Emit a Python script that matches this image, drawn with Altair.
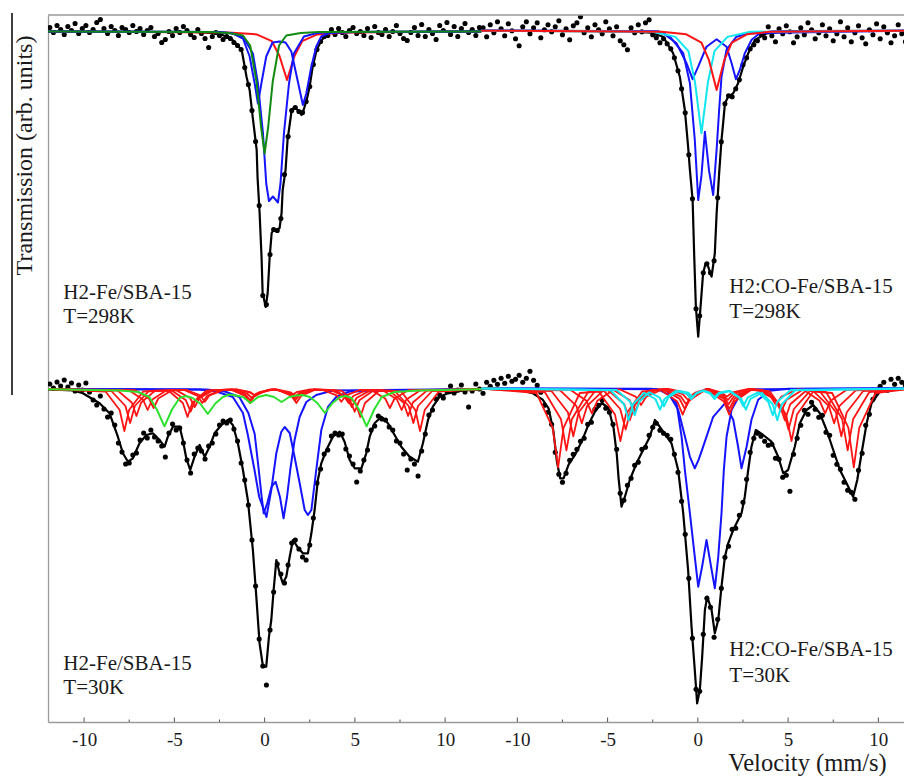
import altair as alt
import pandas as pd

SERIF = "Liberation Serif, Times New Roman, Times, DejaVu Serif, serif"
INK = "#1a1a1a"
GRAY = "#9a9a9a"
BLACK = "#000000"
BLUE = "#1414ff"
RED = "#ff1414"
DKGREEN = "#108a10"
GREEN = "#2ee02e"
CYAN = "#14e6ee"

# velocity channels (mm/s)
CHANNEL_V = [
    -11.9, -11.7, -11.5, -11.3, -11.1, -10.9, -10.7, -10.5, -10.3, -10.1,
    -9.9, -9.7, -9.5, -9.3, -9.1, -8.9, -8.7, -8.5, -8.3, -8.1,
    -7.9, -7.7, -7.5, -7.3, -7.1, -6.9, -6.7, -6.5, -6.3, -6.1,
    -5.9, -5.7, -5.5, -5.3, -5.1, -4.9, -4.7, -4.5, -4.3, -4.1,
    -3.9, -3.7, -3.5, -3.3, -3.1, -2.9, -2.7, -2.5, -2.3, -2.1,
    -1.9, -1.7, -1.5, -1.3, -1.1, -0.9, -0.7, -0.5, -0.3, -0.1,
    0.1, 0.3, 0.5, 0.7, 0.9, 1.1, 1.3, 1.5, 1.7, 1.9,
    2.1, 2.3, 2.5, 2.7, 2.9, 3.1, 3.3, 3.5, 3.7, 3.9,
    4.1, 4.3, 4.5, 4.7, 4.9, 5.1, 5.3, 5.5, 5.7, 5.9,
    6.1, 6.3, 6.5, 6.7, 6.9, 7.1, 7.3, 7.5, 7.7, 7.9,
    8.1, 8.3, 8.5, 8.7, 8.9, 9.1, 9.3, 9.5, 9.7, 9.9,
    10.1, 10.3, 10.5, 10.7, 10.9, 11.1, 11.3, 11.5, 11.7, 11.9,
]

# measured relative transmission (%)
TL_DATA = [
    100.4, 99.9, 100.6, 100.2, 99.7, 100.5, 100.1, 100.8, 99.8, 100.3,
    100.6, 99.9, 100.2, 100.9, 101.2, 100.3, 99.8, 100.5, 100.1, 99.6,
    100.4, 100.2, 99.9, 100.6, 100.0, 100.3, 99.7, 100.1, 100.4, 99.5,
    99.8, 98.9, 99.2, 100.0, 99.6, 100.3, 99.9, 100.5, 100.1, 99.7,
    99.4, 100.2, 99.8, 99.3, 98.4, 99.5, 99.9, 99.6, 99.2, 99.5,
    99.3, 98.9, 98.6, 98.2, 96.4, 94.7, 92.1, 89.0, 82.6, 73.6,
    72.7, 77.7, 80.2, 80.1, 81.3, 85.7, 89.5, 92.1, 92.4, 92.0,
    91.9, 93.0, 94.5, 96.7, 98.2, 99.0, 99.5, 99.6, 100.2, 99.7,
    100.3, 99.9, 99.5, 100.1, 100.4, 99.8, 100.0, 99.6, 100.3, 99.4,
    100.5, 99.9, 99.7, 100.2, 99.5, 100.0, 100.6, 99.8, 99.3, 99.1,
    99.9, 100.4, 99.6, 100.7, 99.5, 100.2, 99.8, 99.2, 100.6, 100.1,
    100.9, 99.7, 100.5, 99.5, 100.3, 100.8, 99.9, 100.2, 99.6, 100.4,
]
TR_DATA = [
    100.3, 99.4, 100.6, 99.8, 100.9, 100.2, 99.5, 100.7, 100.0, 99.2,
    98.5, 100.4, 100.9, 99.7, 100.3, 100.8, 99.3, 100.1, 100.6, 99.9,
    100.4, 101.0, 99.6, 100.2, 99.1, 100.5, 100.8, 101.4, 99.8, 100.3,
    99.4, 100.6, 100.1, 99.7, 100.9, 100.2, 99.5, 100.4, 99.0, 98.6,
    98.1, 100.3, 99.8, 100.6, 99.9, 100.8, 101.1, 99.6, 99.3, 98.8,
    99.2, 98.7, 98.2, 97.3, 96.0, 94.2, 91.8, 87.6, 83.2, 72.2,
    71.5, 75.8, 76.7, 75.8, 77.0, 83.3, 88.9, 92.7, 93.5, 93.4,
    94.2, 95.1, 96.6, 97.3, 98.2, 98.6, 99.0, 99.7, 99.3, 100.4,
    99.5, 98.9, 100.2, 99.7, 100.5, 99.9, 98.8, 99.4, 100.3, 99.6,
    100.8, 100.1, 99.2, 99.8, 100.6, 99.5, 100.2, 99.0, 99.7, 100.9,
    99.4, 100.3, 98.9, 99.8, 100.5, 99.3, 98.7, 100.1, 99.6, 100.7,
    99.2, 100.4, 99.8, 98.8, 99.5, 100.6, 99.7, 98.9, 100.2, 99.5,
]
BL_DATA = [
    100.5, 100.1, 100.7, 100.3, 100.9, 100.2, 100.6, 99.8, 100.4, 99.9,
    100.6, 99.7, 98.9, 98.4, 99.3, 98.0, 97.2, 97.6, 96.4, 94.6,
    93.7, 92.5, 92.6, 93.4, 93.6, 94.9, 95.6, 95.1, 95.9, 95.2,
    94.8, 94.3, 93.2, 95.6, 96.5, 95.9, 96.1, 94.6, 92.9, 91.6,
    93.5, 94.1, 93.8, 93.0, 94.3, 94.6, 95.5, 96.4, 96.8, 96.6,
    96.9, 96.0, 94.8, 92.6, 90.9, 88.4, 84.9, 80.3, 75.0, 72.3,
    70.4, 75.9, 79.7, 82.5, 81.5, 80.6, 82.4, 84.6, 84.9, 84.0,
    83.2, 82.9, 84.4, 87.1, 90.6, 92.0, 93.5, 93.9, 95.3, 95.6,
    95.4, 95.5, 94.0, 93.3, 92.5, 90.7, 91.8, 92.9, 93.9, 95.9,
    96.3, 97.3, 97.0, 96.9, 96.2, 95.9, 94.8, 94.6, 93.5, 91.9,
    93.0, 92.5, 91.3, 93.8, 95.5, 97.4, 97.9, 99.0, 99.4, 99.1,
    99.8, 100.3, 99.6, 99.9, 100.4, 99.7, 98.2, 99.8, 100.5, 100.0,
]
BR_DATA = [
    99.5, 100.6, 100.2, 100.8, 100.4, 101.0, 100.5, 101.2, 100.7, 100.9,
    101.3, 100.6, 101.0, 101.7, 100.8, 100.3, 99.6, 98.3, 97.6, 96.4,
    93.6, 91.4, 90.6, 91.5, 92.8, 93.4, 93.9, 94.7, 95.0, 96.4,
    96.6, 97.9, 98.3, 98.8, 98.0, 97.6, 96.4, 93.9, 89.5, 88.8,
    90.3, 91.0, 92.3, 92.6, 93.9, 94.1, 95.3, 96.1, 96.5, 95.8,
    95.5, 95.3, 94.9, 93.4, 91.6, 88.7, 85.4, 81.0, 75.0, 69.9,
    69.7, 75.4, 79.0, 78.1, 75.1, 76.9, 80.0, 83.1, 84.2, 85.9,
    86.0, 87.3, 88.6, 90.9, 93.6, 95.0, 95.5, 95.2, 94.7, 94.3,
    94.4, 93.0, 92.9, 91.1, 91.3, 89.7, 93.4, 95.0, 96.3, 97.8,
    97.4, 98.6, 97.9, 97.1, 97.3, 95.6, 95.3, 93.3, 92.4, 91.9,
    90.6, 89.8, 89.6, 88.9, 91.8, 93.5, 96.3, 97.4, 98.9, 99.5,
    100.2, 100.6, 99.8, 100.9, 100.4, 101.0, 100.6, 100.3, 100.8, 100.1,
]

# ---- H2-Fe/SBA-15, 298 K ----
TL_FIT = [(-12, 100.0), (-4, 99.95), (-2.5, 99.8), (-1.77, 99.15), (-1.27, 98.15), (-1.0, 95.45),
          (-0.83, 94.15), (-0.66, 91.45), (-0.44, 88.15), (-0.39, 85.35), (-0.28, 81.95), (-0.17, 77.45),
          (-0.11, 73.85), (0.06, 72.45), (0.17, 73.85), (0.28, 77.45), (0.39, 79.85), (0.5, 80.15),
          (0.66, 80.15), (0.83, 80.35), (0.94, 81.85), (1.0, 84.15), (1.16, 86.15), (1.27, 89.15),
          (1.5, 92.15), (1.66, 92.45), (1.83, 92.15), (2.05, 91.65), (2.16, 92.15), (2.33, 93.15),
          (2.49, 94.45), (2.66, 96.45), (2.88, 98.15), (3.16, 99.15), (3.6, 99.85), (5, 99.95), (12, 100.0)]
TL_RED = [(-12, 100.0), (-2.0, 99.9), (-0.44, 99.71), (0.4, 99.03), (0.82, 97.57), (1.24, 95.15),
          (1.66, 97.57), (2.08, 99.03), (2.92, 99.71), (4.5, 99.9), (12, 100.0)]
TL_BLUE_A = [(-12, 100.0), (-2.5, 99.95), (-1.76, 99.8), (-1.2, 99.3), (-0.83, 97.5), (-0.55, 94.8),
             (-0.37, 92.8), (-0.18, 94.8), (0.09, 97.5), (0.44, 98.9), (0.83, 99.0), (1.16, 98.9),
             (1.48, 98.0), (1.84, 95.0), (2.12, 92.65), (2.31, 93.8), (2.59, 96.5), (2.86, 98.5),
             (3.14, 99.5), (3.6, 99.85), (5, 99.95), (12, 100.0)]
TL_BLUE_B = [(-12, 100.0), (-2.8, 99.95), (-1.9, 99.85), (-1.2, 99.5), (-0.65, 97.8), (-0.37, 94.8),
             (-0.09, 89.8), (0.09, 84.8), (0.24, 83.05), (0.46, 83.5), (0.74, 82.9), (0.88, 84.8),
             (1.07, 89.8), (1.35, 94.8), (1.62, 97.8), (2.18, 99.5), (2.9, 99.85), (4, 99.95), (12, 100.0)]
TL_GREEN = [(-12, 100.0), (-3.0, 99.95), (-2.0, 99.85), (-1.2, 99.6), (-0.8, 98.6), (-0.45, 95.0),
            (-0.2, 90.5), (0.0, 87.8), (0.2, 90.5), (0.45, 95.0), (0.8, 98.6), (1.2, 99.6),
            (2.0, 99.85), (3.0, 99.95), (12, 100.0)]

# ---- H2:CO-Fe/SBA-15, 298 K ----
TR_FIT = [(-12, 100.0), (-4, 99.95), (-2.6, 99.8), (-1.92, 99.4), (-1.37, 97.74), (-1.0, 95.4),
          (-0.72, 92.07), (-0.54, 88.4), (-0.44, 86.07), (-0.29, 83.07), (-0.2, 77.4), (-0.11, 72.4),
          (0.02, 69.4), (0.15, 72.4), (0.29, 75.74), (0.43, 76.74), (0.57, 76.4), (0.76, 75.4),
          (0.94, 77.74), (1.04, 81.74), (1.18, 85.74), (1.31, 89.07), (1.4, 90.74), (1.5, 92.74),
          (1.68, 93.4), (1.96, 93.74), (2.23, 94.74), (2.51, 96.4), (2.79, 97.74), (3.16, 99.07),
          (3.81, 99.74), (5, 99.95), (12, 100.0)]
TR_BLUE_A = [(-12, 100.0), (-2.6, 99.95), (-1.92, 99.75), (-1.18, 98.75), (-0.63, 96.75), (-0.29, 95.15),
             (0.02, 96.4), (0.48, 98.4), (1.04, 99.15), (1.59, 98.4), (1.87, 96.75), (2.11, 95.15),
             (2.33, 96.1), (2.6, 97.75), (2.98, 99.1), (3.43, 99.75), (4.2, 99.95), (12, 100.0)]
TR_BLUE_B = [(-12, 100.0), (-2.2, 99.95), (-1.55, 99.4), (-0.81, 97.75), (-0.44, 94.75), (-0.17, 89.1),
             (0.02, 83.07), (0.2, 85.5), (0.39, 89.9), (0.62, 86.0), (0.85, 83.57), (1.04, 88.1),
             (1.18, 92.1), (1.31, 95.4), (1.59, 98.1), (2.14, 99.4), (2.88, 99.75), (12, 100.0)]
TR_CYAN = [(-12, 100.0), (-2.5, 99.9), (-1.24, 99.38), (-0.52, 97.95), (-0.16, 94.87), (0.2, 89.74),
           (0.56, 94.87), (0.92, 97.95), (1.64, 99.38), (2.9, 99.9), (12, 100.0)]
TR_RED = [(-12, 100.0), (-2.0, 99.9), (-0.64, 99.64), (0.2, 98.81), (0.62, 97.03), (1.04, 94.07),
          (1.46, 97.03), (1.88, 98.81), (2.72, 99.64), (4.0, 99.9), (12, 100.0)]

# ---- H2-Fe/SBA-15, 30 K ----
BL_FIT = [(-12, 99.97), (-10.6, 99.85), (-10.07, 99.57), (-9.14, 98.57), (-8.59, 97.57), (-8.13, 95.23),
          (-7.85, 93.57), (-7.57, 92.73), (-7.3, 93.07), (-6.93, 94.57), (-6.55, 95.4), (-6.19, 95.57),
          (-5.82, 94.9), (-5.54, 94.23), (-5.36, 95.23), (-5.08, 96.23), (-4.71, 96.23), (-4.53, 94.9),
          (-4.34, 93.07), (-4.12, 91.9), (-3.88, 93.23), (-3.6, 94.4), (-3.32, 93.23), (-3.05, 94.23),
          (-2.77, 95.57), (-2.4, 96.4), (-2.03, 96.9), (-1.76, 96.4), (-1.48, 94.57), (-1.2, 91.9),
          (-0.93, 88.9), (-0.65, 83.9), (-0.46, 79.23), (-0.28, 74.57), (-0.09, 72.23), (0.09, 72.23),
          (0.24, 75.23), (0.37, 76.9), (0.5, 79.9), (0.65, 82.9), (0.83, 81.57), (1.01, 80.57),
          (1.2, 81.23), (1.39, 83.23), (1.57, 84.9), (1.81, 84.23), (2.12, 83.57), (2.4, 83.57),
          (2.59, 85.57), (2.77, 87.9), (2.95, 90.9), (3.14, 92.57), (3.42, 93.9), (3.78, 95.23),
          (4.16, 95.73), (4.43, 94.73), (4.71, 92.9), (4.99, 92.07), (5.36, 92.07), (5.63, 93.57),
          (5.82, 95.23), (6.09, 96.57), (6.47, 97.23), (6.83, 96.57), (7.2, 95.4), (7.57, 94.23),
          (8.03, 93.23), (8.49, 92.73), (8.77, 94.57), (9.05, 96.9), (9.32, 98.23), (9.7, 99.23),
          (10.16, 99.57), (11, 99.85), (12, 99.97)]
BL_BLUE_A = [(-12, 100.0), (-3.6, 99.95), (-2.68, 99.75), (-1.76, 99.2), (-1.2, 97.6), (-0.94, 95.5),
             (-0.57, 92.0), (-0.3, 89.2), (0.1, 87.2), (0.37, 89.9), (0.65, 93.6), (0.92, 95.7),
             (1.11, 96.2), (1.39, 95.6), (1.66, 93.2), (1.94, 90.6), (2.22, 87.9), (2.4, 87.4),
             (2.59, 87.9), (2.86, 91.9), (3.14, 95.9), (3.51, 98.2), (3.97, 99.2), (4.71, 99.75), (12, 100.0)]
BL_BLUE_B = [(-12, 100.0), (-3.2, 99.95), (-2.2, 99.75), (-1.4, 99.2), (-0.9, 97.6), (-0.55, 95.5),
             (-0.33, 92.0), (-0.17, 89.3), (-0.05, 87.57), (0.15, 88.6), (0.38, 90.2), (0.61, 90.73),
             (0.85, 89.2), (1.05, 87.07), (1.24, 89.2), (1.42, 91.9), (1.66, 94.9), (1.94, 97.2),
             (2.31, 98.7), (2.86, 99.4), (3.78, 99.85), (12, 100.0)]
BL_RED_1 = [(-12, 99.98), (-8.81, 99.75), (-8.03, 97.9), (-7.77, 95.8), (-7.51, 97.9), (-6.73, 99.75),
            (-5.31, 99.83), (-4.53, 98.6), (-4.27, 97.2), (-4.01, 98.6), (-3.23, 99.83), (-1.86, 99.92),
            (-1.08, 99.3), (-0.82, 98.6), (-0.56, 99.3), (0.22, 99.92), (0.72, 99.92), (1.5, 99.3),
            (1.76, 98.6), (2.02, 99.3), (2.8, 99.92), (4.26, 99.83), (5.04, 98.6), (5.3, 97.2),
            (5.56, 98.6), (6.34, 99.83), (7.57, 99.75), (8.35, 97.9), (8.61, 95.8), (8.87, 97.9),
            (9.65, 99.75), (12, 99.98)]
BL_RED_2 = [(-12, 99.98), (-8.49, 99.8), (-7.71, 98.3), (-7.45, 96.6), (-7.19, 98.3), (-6.41, 99.8),
            (-5.14, 99.86), (-4.36, 98.87), (-4.1, 97.73), (-3.84, 98.87), (-3.06, 99.86), (-1.84, 99.93),
            (-1.06, 99.43), (-0.8, 98.87), (-0.54, 99.43), (0.24, 99.93), (0.65, 99.93), (1.43, 99.43),
            (1.69, 98.87), (1.95, 99.43), (2.73, 99.93), (3.95, 99.86), (4.73, 98.87), (4.99, 97.73),
            (5.25, 98.87), (6.03, 99.86), (7.2, 99.8), (7.98, 98.3), (8.24, 96.6), (8.5, 98.3),
            (9.28, 99.8), (12, 99.98)]
BL_RED_3 = [(-12, 99.98), (-8.14, 99.84), (-7.36, 98.65), (-7.1, 97.3), (-6.84, 98.65), (-6.06, 99.84),
            (-4.91, 99.89), (-4.13, 99.1), (-3.87, 98.2), (-3.61, 99.1), (-2.83, 99.89), (-1.75, 99.95),
            (-0.97, 99.55), (-0.71, 99.1), (-0.45, 99.55), (0.33, 99.95), (0.63, 99.95), (1.41, 99.55),
            (1.67, 99.1), (1.93, 99.55), (2.71, 99.95), (3.79, 99.89), (4.57, 99.1), (4.83, 98.2),
            (5.09, 99.1), (5.87, 99.89), (6.91, 99.84), (7.69, 98.65), (7.95, 97.3), (8.21, 98.65),
            (8.99, 99.84), (12, 99.98)]
BL_RED_4 = [(-12, 99.98), (-7.52, 99.87), (-6.74, 98.95), (-6.48, 97.9), (-6.22, 98.95), (-5.44, 99.87),
            (-4.49, 99.92), (-3.71, 99.3), (-3.45, 98.6), (-3.19, 99.3), (-2.41, 99.92), (-1.55, 99.96),
            (-0.77, 99.65), (-0.51, 99.3), (-0.25, 99.65), (0.53, 99.96), (0.67, 99.96), (1.45, 99.65),
            (1.71, 99.3), (1.97, 99.65), (2.75, 99.96), (3.61, 99.92), (4.39, 99.3), (4.65, 98.6),
            (4.91, 99.3), (5.69, 99.92), (6.55, 99.87), (7.33, 98.95), (7.59, 97.9), (7.85, 98.95),
            (8.63, 99.87), (12, 99.98)]
BL_RED_5 = [(-12, 99.98), (-7.19, 99.89), (-6.41, 99.05), (-6.15, 98.1), (-5.89, 99.05), (-5.11, 99.89),
            (-4.35, 99.92), (-3.57, 99.37), (-3.31, 98.73), (-3.05, 99.37), (-2.27, 99.92), (-1.6, 99.96),
            (-0.82, 99.68), (-0.56, 99.37), (-0.3, 99.68), (0.45, 99.96), (0.5, 99.96), (1.24, 99.68),
            (1.5, 99.37), (1.76, 99.68), (2.54, 99.96), (3.21, 99.92), (3.99, 99.37), (4.25, 98.73),
            (4.51, 99.37), (5.29, 99.92), (5.9, 99.89), (6.68, 99.05), (6.94, 98.1), (7.2, 99.05),
            (7.98, 99.89), (12, 99.98)]
BL_GREEN = [(-12, 99.97), (-8.0, 99.85), (-7.0, 99.7), (-6.39, 99.2), (-5.97, 97.95), (-5.55, 96.27),
            (-5.13, 97.95), (-4.71, 99.1), (-4.35, 99.3), (-3.99, 99.1), (-3.57, 98.55), (-3.15, 97.5),
            (-2.73, 98.55), (-2.31, 99.2), (-1.95, 99.45), (-1.6, 99.35), (-1.2, 99.2), (-0.78, 98.6),
            (-0.36, 99.2), (0.08, 99.4), (0.52, 99.2), (0.94, 98.7), (1.36, 99.2), (1.76, 99.35),
            (2.1, 99.4), (2.5, 99.2), (2.92, 98.6), (3.34, 97.6), (3.76, 98.6), (4.18, 99.2),
            (4.5, 99.3), (4.81, 99.1), (5.23, 97.95), (5.65, 96.27), (6.07, 97.95), (6.49, 99.2),
            (7.2, 99.7), (8.5, 99.85), (12, 99.97)]

# ---- H2:CO-Fe/SBA-15, 30 K ----
BR_FIT = [(-12, 99.97), (-10, 99.85), (-9.14, 99.5), (-8.6, 98.86), (-8.27, 98.0), (-8.0, 95.7),
          (-7.81, 92.7), (-7.63, 91.0), (-7.44, 91.0), (-7.16, 92.36), (-6.8, 93.36), (-6.43, 94.7),
          (-6.06, 96.36), (-5.69, 97.7), (-5.32, 98.53), (-4.95, 98.03), (-4.67, 96.03), (-4.49, 93.36),
          (-4.39, 91.0), (-4.23, 88.16), (-4.04, 89.16), (-3.77, 90.83), (-3.4, 92.5), (-3.03, 93.83),
          (-2.66, 95.16), (-2.38, 96.83), (-1.92, 95.66), (-1.46, 94.5), (-1.09, 91.83), (-0.81, 87.5),
          (-0.54, 81.83), (-0.35, 76.16), (-0.17, 71.83), (-0.04, 68.5), (0.11, 69.83), (0.24, 73.16),
          (0.39, 77.83), (0.52, 79.16), (0.76, 77.83), (0.94, 75.5), (1.13, 76.83), (1.31, 80.16),
          (1.5, 83.16), (1.68, 84.5), (1.96, 85.83), (2.23, 86.83), (2.42, 87.5), (2.6, 89.16),
          (2.79, 91.83), (2.97, 94.16), (3.21, 95.83), (3.62, 95.33), (4.08, 94.66), (4.45, 93.16),
          (4.73, 91.5), (5.0, 91.83), (5.37, 94.16), (5.65, 96.5), (6.02, 97.83), (6.39, 98.33),
          (6.76, 97.5), (7.13, 95.83), (7.5, 93.83), (7.87, 91.83), (8.24, 90.5), (8.6, 89.16),
          (8.83, 90.83), (9.07, 93.5), (9.35, 96.5), (9.62, 98.5), (10.08, 99.66), (10.8, 99.93), (12, 99.98)]
BR_BLUE_A = [(-12, 100.0), (-2.6, 99.95), (-1.73, 99.8), (-1.09, 97.85), (-0.72, 95.2), (-0.44, 93.15),
             (-0.17, 92.0), (0.05, 92.9), (0.29, 94.15), (0.85, 97.15), (1.5, 98.5), (1.96, 96.85),
             (2.23, 94.15), (2.42, 92.0), (2.7, 94.15), (2.97, 96.85), (3.34, 98.85), (3.99, 99.75),
             (5.0, 99.95), (12, 100.0)]
BR_BLUE_B = [(-12, 100.0), (-2.2, 99.9), (-1.55, 99.3), (-1.18, 98.5), (-0.9, 95.15), (-0.72, 91.85),
             (-0.44, 87.5), (-0.17, 83.15), (0.02, 80.16), (0.25, 82.3), (0.48, 84.83), (0.72, 82.3),
             (0.94, 80.0), (1.13, 83.15), (1.31, 87.5), (1.44, 91.85), (1.59, 95.15), (1.87, 97.85),
             (2.33, 99.35), (3.0, 99.9), (12, 100.0)]
BR_RED_1 = [(-12, 99.98), (-8.94, 99.53), (-8.04, 96.05), (-7.74, 92.1), (-7.44, 96.05), (-6.54, 99.53),
            (-5.49, 99.68), (-4.59, 97.37), (-4.29, 94.73), (-3.99, 97.37), (-3.09, 99.68), (-2.04, 99.84),
            (-1.14, 98.68), (-0.84, 97.37), (-0.54, 98.68), (0.36, 99.84), (0.54, 99.84), (1.44, 98.68),
            (1.74, 97.37), (2.04, 98.68), (2.94, 99.84), (3.99, 99.68), (4.89, 97.37), (5.19, 94.73),
            (5.49, 97.37), (6.39, 99.68), (7.44, 99.53), (8.34, 96.05), (8.64, 92.1), (8.94, 96.05),
            (9.84, 99.53), (12, 99.98)]
BR_RED_2 = [(-12, 99.98), (-8.48, 99.63), (-7.58, 96.9), (-7.28, 93.8), (-6.98, 96.9), (-6.08, 99.63),
            (-5.2, 99.75), (-4.3, 97.93), (-4.0, 95.87), (-3.7, 97.93), (-2.8, 99.75), (-1.92, 99.88),
            (-1.02, 98.97), (-0.72, 97.93), (-0.42, 98.97), (0.48, 99.88), (0.54, 99.88), (1.44, 98.97),
            (1.74, 97.93), (2.04, 98.97), (2.94, 99.88), (3.82, 99.75), (4.72, 97.93), (5.02, 95.87),
            (5.32, 97.93), (6.22, 99.75), (7.1, 99.63), (8.0, 96.9), (8.3, 93.8), (8.6, 96.9),
            (9.5, 99.63), (12, 99.98)]
BR_RED_3 = [(-12, 99.98), (-8.1, 99.71), (-7.2, 97.6), (-6.9, 95.2), (-6.6, 97.6), (-5.7, 99.71),
            (-4.97, 99.81), (-4.07, 98.4), (-3.77, 96.8), (-3.47, 98.4), (-2.57, 99.81), (-1.85, 99.9),
            (-0.95, 99.2), (-0.65, 98.4), (-0.35, 99.2), (0.45, 99.9), (0.55, 99.9), (1.4, 99.2),
            (1.7, 98.4), (2.0, 99.2), (2.9, 99.9), (3.62, 99.81), (4.52, 98.4), (4.82, 96.8),
            (5.12, 98.4), (6.02, 99.81), (6.75, 99.71), (7.65, 97.6), (7.95, 95.2), (8.25, 97.6),
            (9.15, 99.71), (12, 99.98)]
BR_RED_4 = [(-12, 99.98), (-7.63, 99.79), (-6.73, 98.25), (-6.43, 96.5), (-6.13, 98.25), (-5.23, 99.79),
            (-4.69, 99.86), (-3.79, 98.83), (-3.49, 97.67), (-3.19, 98.83), (-2.29, 99.86), (-1.74, 99.93),
            (-0.84, 99.42), (-0.54, 98.83), (-0.24, 99.42), (0.5, 99.93), (0.6, 99.93), (1.36, 99.42),
            (1.66, 98.83), (1.96, 99.42), (2.86, 99.93), (3.41, 99.86), (4.31, 98.83), (4.61, 97.67),
            (4.91, 98.83), (5.81, 99.86), (6.35, 99.79), (7.25, 98.25), (7.55, 96.5), (7.85, 98.25),
            (8.75, 99.79), (12, 99.98)]
BR_RED_5 = [(-12, 99.98), (-7.07, 99.85), (-6.17, 98.75), (-5.87, 97.5), (-5.57, 98.75), (-4.67, 99.85),
            (-4.35, 99.9), (-3.45, 99.17), (-3.15, 98.33), (-2.85, 99.17), (-1.95, 99.9), (-1.63, 99.95),
            (-0.73, 99.58), (-0.43, 99.17), (-0.13, 99.58), (0.5, 99.95), (0.6, 99.95), (1.31, 99.58),
            (1.61, 99.17), (1.91, 99.58), (2.81, 99.95), (3.13, 99.9), (4.03, 99.17), (4.33, 98.33),
            (4.63, 99.17), (5.53, 99.9), (5.85, 99.85), (6.75, 98.75), (7.05, 97.5), (7.35, 98.75),
            (8.25, 99.85), (12, 99.98)]
BR_CYAN_1 = [(-12, 99.98), (-4.84, 99.81), (-4.09, 98.4), (-3.84, 96.8), (-3.59, 98.4), (-2.97, 99.55),
             (-2.35, 98.93), (-2.1, 97.87), (-1.85, 98.93), (-1.24, 99.72), (-0.62, 99.47), (-0.37, 98.93),
             (-0.12, 99.47), (0.28, 99.75), (0.68, 99.47), (0.93, 98.93), (1.18, 99.47), (1.8, 99.72),
             (2.41, 98.93), (2.66, 97.87), (2.91, 98.93), (3.53, 99.55), (4.15, 98.4), (4.4, 96.8),
             (4.65, 98.4), (5.4, 99.81), (12, 99.98)]
BR_CYAN_2 = [(-12, 99.98), (-4.5, 99.84), (-3.75, 98.65), (-3.5, 97.3), (-3.25, 98.65), (-2.69, 99.6),
             (-2.13, 99.1), (-1.88, 98.2), (-1.63, 99.1), (-1.08, 99.75), (-0.53, 99.55), (-0.28, 99.1),
             (-0.03, 99.55), (0.32, 99.78), (0.67, 99.55), (0.92, 99.1), (1.17, 99.55), (1.72, 99.75),
             (2.27, 99.1), (2.52, 98.2), (2.77, 99.1), (3.34, 99.6), (3.9, 98.65), (4.15, 97.3),
             (4.4, 98.65), (5.15, 99.84), (12, 99.98)]

# panel placement: right panels share the axis shifted by 24 mm/s, top panels raised
X_SHIFT = {"TL": 0.0, "TR": 24.0, "BL": 0.0, "BR": 24.0}
Y_SHIFT = {"TL": 35.72, "TR": 35.80, "BL": -0.03, "BR": 0.04}

MAJOR_TICKS = [-10, -5, 0, 5, 10, 14, 19, 24, 29, 34]
MINOR_TICKS = [-7.5, -2.5, 2.5, 7.5, 16.5, 21.5, 26.5, 31.5]

LABELS = ["H2-Fe/SBA-15", "T=298K", "H2:CO-Fe/SBA-15", "T=298K",
          "H2-Fe/SBA-15", "T=30K", "H2:CO-Fe/SBA-15", "T=30K"]
LABEL_X = [-11.15, -11.15, 25.745, 25.745, -11.15, -11.15, 25.745, 25.745]
LABEL_Y = [108.97, 106.57, 109.54, 107.1, 71.87, 69.47, 73.27, 70.7]

# drawing order (bottom to top)
CURVES = [
    ("TL", BLACK, 2.2, TL_FIT), ("TL", RED, 2.0, TL_RED), ("TL", BLUE, 2.0, TL_BLUE_A),
    ("TL", BLUE, 2.0, TL_BLUE_B), ("TL", DKGREEN, 2.0, TL_GREEN),
    ("TR", BLACK, 2.2, TR_FIT), ("TR", BLUE, 2.0, TR_BLUE_A), ("TR", BLUE, 2.0, TR_BLUE_B),
    ("TR", CYAN, 2.0, TR_CYAN), ("TR", RED, 2.0, TR_RED),
    ("BL", BLACK, 2.2, BL_FIT), ("BL", BLUE, 2.0, BL_BLUE_A), ("BL", BLUE, 2.0, BL_BLUE_B),
    ("BL", RED, 1.8, BL_RED_1), ("BL", RED, 1.8, BL_RED_2), ("BL", RED, 1.8, BL_RED_3),
    ("BL", RED, 1.8, BL_RED_4), ("BL", RED, 1.8, BL_RED_5), ("BL", GREEN, 2.0, BL_GREEN),
    ("BR", BLACK, 2.2, BR_FIT), ("BR", BLUE, 2.0, BR_BLUE_A), ("BR", BLUE, 2.0, BR_BLUE_B),
    ("BR", RED, 1.8, BR_RED_1), ("BR", RED, 1.8, BR_RED_2), ("BR", RED, 1.8, BR_RED_3),
    ("BR", RED, 1.8, BR_RED_4), ("BR", RED, 1.8, BR_RED_5),
    ("BR", CYAN, 2.0, BR_CYAN_1), ("BR", CYAN, 2.0, BR_CYAN_2),
]

XSCALE = alt.Scale(domain=[-12, 35.42], nice=False, zero=False)
YSCALE = alt.Scale(domain=[66.67, 137.37], nice=False, zero=False)
XAXIS = alt.Axis(
    values=MAJOR_TICKS,
    labelExpr="datum.value > 12 ? '' + (datum.value - 24) : '' + datum.value",
    title="Velocity (mm/s)", grid=False, ticks=False, tickSize=0,
    domainColor=GRAY, domainWidth=1.3,
    labelFont=SERIF, labelFontSize=19, labelColor=INK, labelPadding=8,
    labelOverlap=False, labelFlush=False,
    titleFont=SERIF, titleFontSize=24.5, titleFontWeight="normal", titleColor=INK,
    titleX=759, titleY=48, titleAlign="center", titleBaseline="alphabetic",
)
YAXIS = alt.Axis(
    title="Transmission (arb. units)", labels=False, ticks=False, tickSize=0, grid=False,
    domainColor=GRAY, domainWidth=1.3,
    titleFont=SERIF, titleFontSize=24, titleFontWeight="normal", titleColor=INK,
    titleAngle=270, titleX=-17, titleY=140, titleAlign="center", titleBaseline="alphabetic",
)
XENC = alt.X("X:Q", scale=XSCALE, axis=XAXIS)
YENC = alt.Y("Y:Q", scale=YSCALE, axis=YAXIS)


def curve_df(panel, pts):
    return pd.DataFrame({
        "X": [p[0] + X_SHIFT[panel] for p in pts],
        "Y": [p[1] + Y_SHIFT[panel] for p in pts],
        "i": list(range(len(pts))),
    })


rows = []
for panel, vals in (("TL", TL_DATA), ("TR", TR_DATA), ("BL", BL_DATA), ("BR", BR_DATA)):
    for v, t in zip(CHANNEL_V, vals):
        rows.append({"X": v + X_SHIFT[panel], "Y": t + Y_SHIFT[panel], "panel": panel})
points_df = pd.DataFrame(rows)

layers = []
layers.append(
    alt.Chart(points_df).mark_circle(size=26, color=BLACK, opacity=1, clip=True)
    .encode(x=XENC, y=YENC)
)
for panel, color, width, pts in CURVES:
    layers.append(
        alt.Chart(curve_df(panel, pts))
        .mark_line(color=color, strokeWidth=width, clip=True, strokeJoin="round")
        .encode(x=XENC, y=YENC, order=alt.Order("i:Q"))
    )

# inward major / minor ticks on the velocity axis
layers.append(
    alt.Chart(pd.DataFrame({"X": MAJOR_TICKS})).mark_rule(color="#555555", strokeWidth=1)
    .encode(x=XENC, y=alt.value(707), y2=alt.value(702.5))
)
layers.append(
    alt.Chart(pd.DataFrame({"X": MINOR_TICKS})).mark_rule(color="#555555", strokeWidth=1)
    .encode(x=XENC, y=alt.value(707), y2=alt.value(704.5))
)
# frame: top line and outer left line
frame = pd.DataFrame({"k": [0]})
layers.append(
    alt.Chart(frame).mark_rule(color=GRAY, strokeWidth=1.3)
    .encode(x=alt.value(0), x2=alt.value(856), y=alt.value(0))
)
layers.append(
    alt.Chart(frame).mark_rule(color=BLACK, strokeWidth=1.5)
    .encode(x=alt.value(-36), y=alt.value(-2), y2=alt.value(380))
)
# panel annotations
layers.append(
    alt.Chart(pd.DataFrame({"X": LABEL_X, "Y": LABEL_Y, "label": LABELS}))
    .mark_text(align="left", baseline="alphabetic", font=SERIF, fontSize=21, color=INK)
    .encode(x=XENC, y=YENC, text="label:N")
)

chart = (
    alt.layer(*layers)
    .properties(
        width=856, height=707,
        padding={"left": 48, "top": 15, "right": 0, "bottom": 54},
        autosize="none", background="white",
    )
    .configure_view(stroke=None)
)

chart.save("out.html", embed_options={"renderer": "svg", "actions": False})
